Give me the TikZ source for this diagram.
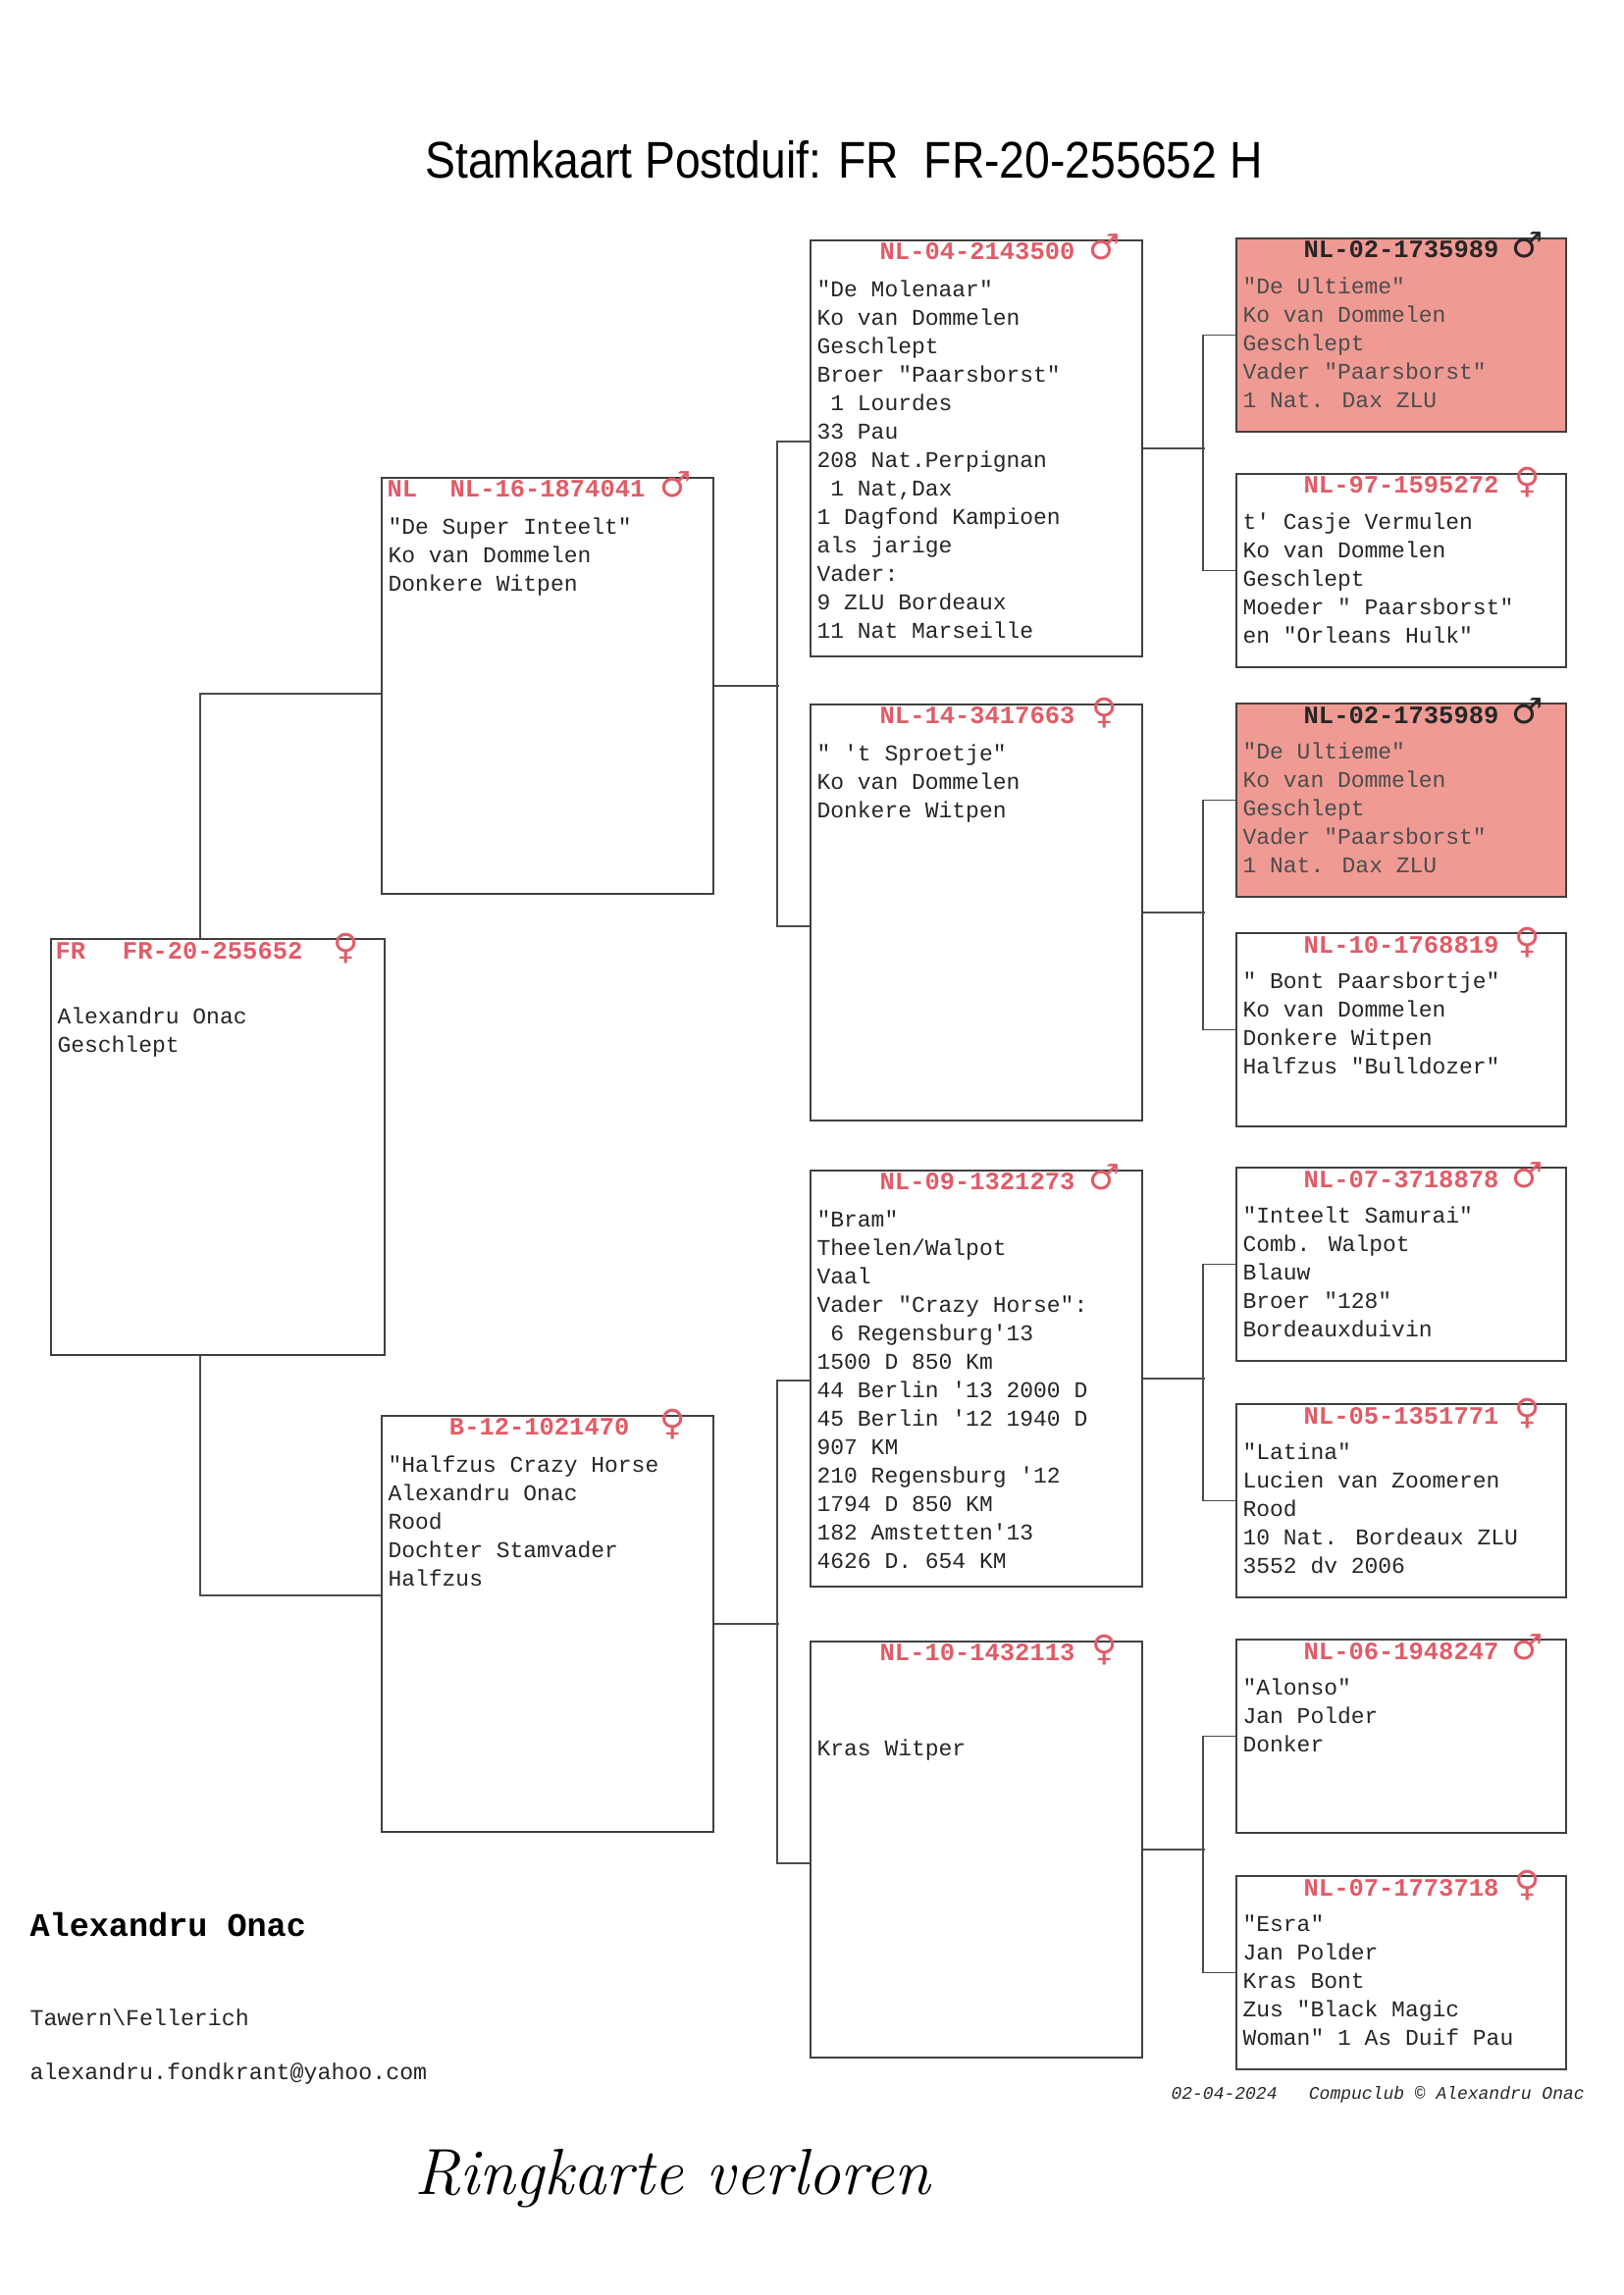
\documentclass[tikz,border=0pt]{standalone}
\usepackage{fontspec}
\newfontfamily\cardfont{Liberation Mono}
\newfontfamily\titlefont{Liberation Sans}
\newfontfamily\symfont{DejaVu Sans}
\usetikzlibrary{calc}

\definecolor{ringred}{RGB}{224,92,104}
\definecolor{cardred}{RGB}{240,154,148}
\newcommand\q{\textquotesingle}

\tikzset{
  card/.style={draw=black!75, line width=0.7pt, inner sep=0, anchor=north west,
    minimum width=338*0.012697cm, minimum height=424*0.012697cm},
  smallcard/.style={card, minimum width=336*0.012697cm, minimum height=197*0.012697cm},
  redcard/.style={smallcard, fill=cardred},
  conn/.style={draw=black!70, line width=0.5pt},
  ringnr/.style={anchor=base east, inner sep=0, text=ringred,
    font=\cardfont\bfseries\fontsize{9.2}{11}\selectfont},
  land/.style={ringnr, anchor=base west},
  sexe/.style={anchor=base, inner sep=0, text=ringred, font=\symfont\fontsize{13}{13}\selectfont},
  info/.style={anchor=north west, inner sep=0, align=left, text=black!85,
    font=\cardfont\fontsize{8.3}{10.48}\selectfont,
    execute at begin node=\rule{0pt}{8pt}},
  onred/.style={text=black!70},
}

\begin{document}
\begin{tikzpicture}[x=0.012697cm, y=-0.012697cm]
\useasboundingbox[fill=white] (0,0) rectangle (1654,2339);

\node[anchor=base, inner sep=0, font=\titlefont\fontsize{19}{19}\selectfont] (title) at (860,182)
  {\scalebox{0.88}[1]{Stamkaart Postduif: FR\ \ FR-20-255652 H}};

% generatie 1 en 2
\node[card, minimum width=340*0.012697cm] (s) at (51,956) {};
\node[card] (f) at (388,486) {};
\node[card] (m) at (388,1442) {};

% generatie 3
\node[card] (ff) at (825,244) {};
\node[card] (fm) at (825,717) {};
\node[card] (mf) at (825,1192) {};
\node[card] (mm) at (825,1672) {};

% generatie 4
\node[redcard] (fff) at (1259,242) {};
\node[smallcard] (ffm) at (1259,482) {};
\node[redcard] (fmf) at (1259,716) {};
\node[smallcard] (fmm) at (1259,950) {};
\node[smallcard] (mff) at (1259,1189) {};
\node[smallcard] (mfm) at (1259,1430) {};
\node[smallcard] (mmf) at (1259,1670) {};
\node[smallcard] (mmm) at (1259,1911) {};

% lijnen
\draw[conn] ($(s.north west)+(153,0)$) |- ($(f.north west)+(0,221)$);
\draw[conn] ($(s.south west)+(153,0)$) |- ($(m.north west)+(0,184)$);
\draw[conn] (f.east) -- ++(66,0);
\draw[conn] ($(ff.north west)+(0,206)$) -- ++(-33,0) |- ($(fm.north west)+(0,227)$);
\draw[conn] (m.east) -- ++(66,0);
\draw[conn] ($(mf.north west)+(0,215)$) -- ++(-33,0) |- ($(mm.north west)+(0,227)$);
\foreach \p/\a/\b in {ff/fff/ffm, fm/fmf/fmm, mf/mff/mfm, mm/mmf/mmm} {
  \draw[conn] (\p.east) -- ++(63,0);
  \draw[conn] (\a.west) -- ++(-33,0) |- (\b.west);
}

% duif zelf
\node[land] (s-l) at ($(s.north west)+(5,21)$) {FR};
\node[ringnr] (s-r) at ($(s.north east)+(-84,21)$) {FR-20-255652};
\node[sexe] (s-x) at ($(s.north east)+(-40,21)$) {♀};
\node[info] (s-t) at ($(s.north west)+(7,70)$) {Alexandru Onac\\Geschlept};

% vader
\node[land] (f-l) at ($(f.north west)+(6,20.5)$) {NL};
\node[ringnr] (f-r) at ($(f.north east)+(-70,20.5)$) {NL-16-1874041};
\node[sexe] (f-x) at ($(f.north east)+(-39,20.5)$) {♂};
\node[info] (f-t) at ($(f.north west)+(7,41)$) {"De Super Inteelt"\\Ko van Dommelen\\Donkere Witpen};

% moeder
\node[ringnr] (m-r) at ($(m.north east)+(-86,20.5)$) {B-12-1021470};
\node[sexe] (m-x) at ($(m.north east)+(-42,20.5)$) {♀};
\node[info] (m-t) at ($(m.north west)+(7,41)$) {"Halfzus Crazy Horse\\Alexandru Onac\\Rood\\Dochter Stamvader\\Halfzus};

% grootouders
\node[ringnr] (ff-r) at ($(ff.north east)+(-69,20.5)$) {NL-04-2143500};
\node[sexe] (ff-x) at ($(ff.north east)+(-39,20.5)$) {♂};
\node[info] (ff-t) at ($(ff.north west)+(7,41)$) {"De Molenaar"\\Ko van Dommelen\\Geschlept\\Broer "Paarsborst"\\
  \ 1 Lourdes\\33 Pau\\208 Nat.Perpignan\\\ 1 Nat,Dax\\1 Dagfond Kampioen\\als jarige\\Vader:\\9 ZLU Bordeaux\\11 Nat Marseille};

\node[ringnr] (fm-r) at ($(fm.north east)+(-69,20.5)$) {NL-14-3417663};
\node[sexe] (fm-x) at ($(fm.north east)+(-39,20.5)$) {♀};
\node[info] (fm-t) at ($(fm.north west)+(7,41)$) {" \q t Sproetje"\\Ko van Dommelen\\Donkere Witpen};

\node[ringnr] (mf-r) at ($(mf.north east)+(-69,20.5)$) {NL-09-1321273};
\node[sexe] (mf-x) at ($(mf.north east)+(-39,20.5)$) {♂};
\node[info] (mf-t) at ($(mf.north west)+(7,41)$) {"Bram"\\Theelen/Walpot\\Vaal\\Vader "Crazy Horse":\\\ 6 Regensburg\q 13\\
  1500 D 850 Km\\44 Berlin \q 13 2000 D\\45 Berlin \q 12 1940 D\\907 KM\\210 Regensburg \q 12\\1794 D 850 KM\\182 Amstetten\q 13\\4626 D. 654 KM};

\node[ringnr] (mm-r) at ($(mm.north east)+(-69,20.5)$) {NL-10-1432113};
\node[sexe] (mm-x) at ($(mm.north east)+(-39,20.5)$) {♀};
\node[info] (mm-t) at ($(mm.north west)+(7,95)$) {Kras Witper};

% overgrootouders
\node[ringnr, text=black!85] (fff-r) at ($(fff.north east)+(-69,21)$) {NL-02-1735989};
\node[sexe, text=black!85] (fff-x) at ($(fff.north east)+(-40,21)$) {♂};
\node[info, onred] (fff-t) at ($(fff.north west)+(7,40)$) {"De Ultieme"\\Ko van Dommelen\\Geschlept\\Vader "Paarsborst"\\1 Nat. Dax ZLU};

\node[ringnr] (ffm-r) at ($(ffm.north east)+(-69,21)$) {NL-97-1595272};
\node[sexe] (ffm-x) at ($(ffm.north east)+(-40,21)$) {♀};
\node[info] (ffm-t) at ($(ffm.north west)+(7,40)$) {t\q{} Casje Vermulen\\Ko van Dommelen\\Geschlept\\Moeder " Paarsborst"\\en "Orleans Hulk"};

\node[ringnr, text=black!85] (fmf-r) at ($(fmf.north east)+(-69,21)$) {NL-02-1735989};
\node[sexe, text=black!85] (fmf-x) at ($(fmf.north east)+(-40,21)$) {♂};
\node[info, onred] (fmf-t) at ($(fmf.north west)+(7,40)$) {"De Ultieme"\\Ko van Dommelen\\Geschlept\\Vader "Paarsborst"\\1 Nat. Dax ZLU};

\node[ringnr] (fmm-r) at ($(fmm.north east)+(-69,21)$) {NL-10-1768819};
\node[sexe] (fmm-x) at ($(fmm.north east)+(-40,21)$) {♀};
\node[info] (fmm-t) at ($(fmm.north west)+(7,40)$) {" Bont Paarsbortje"\\Ko van Dommelen\\Donkere Witpen\\Halfzus "Bulldozer"};

\node[ringnr] (mff-r) at ($(mff.north east)+(-69,21)$) {NL-07-3718878};
\node[sexe] (mff-x) at ($(mff.north east)+(-40,21)$) {♂};
\node[info] (mff-t) at ($(mff.north west)+(7,40)$) {"Inteelt Samurai"\\Comb. Walpot\\Blauw\\Broer "128"\\Bordeauxduivin};

\node[ringnr] (mfm-r) at ($(mfm.north east)+(-69,21)$) {NL-05-1351771};
\node[sexe] (mfm-x) at ($(mfm.north east)+(-40,21)$) {♀};
\node[info] (mfm-t) at ($(mfm.north west)+(7,40)$) {"Latina"\\Lucien van Zoomeren\\Rood\\10 Nat. Bordeaux ZLU\\3552 dv 2006};

\node[ringnr] (mmf-r) at ($(mmf.north east)+(-69,21)$) {NL-06-1948247};
\node[sexe] (mmf-x) at ($(mmf.north east)+(-40,21)$) {♂};
\node[info] (mmf-t) at ($(mmf.north west)+(7,40)$) {"Alonso"\\Jan Polder\\Donker};

\node[ringnr] (mmm-r) at ($(mmm.north east)+(-69,21)$) {NL-07-1773718};
\node[sexe] (mmm-x) at ($(mmm.north east)+(-40,21)$) {♀};
\node[info] (mmm-t) at ($(mmm.north west)+(7,40)$) {"Esra"\\Jan Polder\\Kras Bont\\Zus "Black Magic\\Woman" 1 As Duif Pau};

% onderaan
\node[anchor=base west, inner sep=0, font=\cardfont\bfseries\fontsize{12.1}{14}\selectfont] (naam) at (30,1973) {Alexandru Onac};
\node[anchor=base west, inner sep=0, text=black!85, font=\cardfont\fontsize{8.4}{10}\selectfont] (plaats) at (30,2064) {Tawern\textbackslash Fellerich};
\node[anchor=base west, inner sep=0, text=black!85, font=\cardfont\fontsize{8.4}{10}\selectfont] (mail) at (30,2119) {alexandru.fondkrant@yahoo.com};
\node[anchor=base west, inner sep=0, text=black!85, font=\cardfont\itshape\fontsize{6.5}{8}\selectfont] (datum) at (1193,2139) {02-04-2024\ \ \ Compuclub © Alexandru Onac};
\node[anchor=base, inner sep=0, font=\itshape\fontsize{24}{24}\selectfont] (notitie) at (685,2236) {Ringkarte verloren};
\end{tikzpicture}
\end{document}
